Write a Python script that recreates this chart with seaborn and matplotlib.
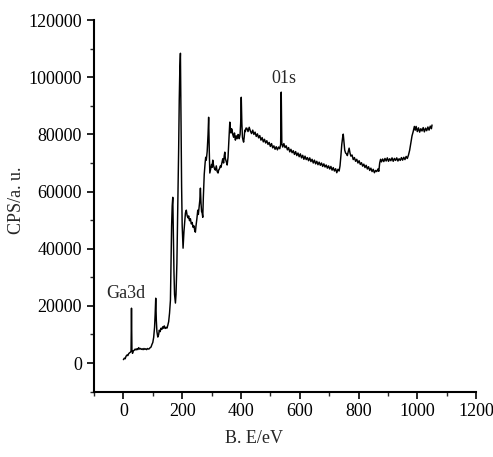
import matplotlib
matplotlib.use("Agg")
import matplotlib.pyplot as plt
import seaborn as sns
import pandas as pd
from matplotlib.ticker import MultipleLocator

# ---- data (binding energy in eV, counts) ----
energy = [
    0, 3, 6, 9, 12, 15, 18, 21, 24, 26, 27.5, 29, 31, 34, 37, 40, 43, 46, 49, 52, 55, 58, 61, 64, 67, 70,
    73, 76, 79, 82, 85, 88, 91, 94, 97, 100, 103, 106, 108, 110, 112, 114, 117, 120, 122, 125, 128, 131,
    134, 136, 139, 142, 145, 148, 151, 154, 157, 160, 162, 164, 166, 168, 170, 172, 174, 177, 179, 182,
    185, 188, 190, 192, 194, 196, 198, 200, 203, 206, 209, 211,
    214, 217, 220, 222, 225, 228, 231, 234, 237, 240, 243, 245, 247, 250, 253, 255, 258, 260, 262, 264,
    266, 268, 270, 272, 275, 278, 280, 282, 285, 288, 290, 292, 294, 297, 300, 302, 304, 307, 310, 313,
    316, 319, 322, 324, 327, 330, 332, 335, 338, 341, 343, 345, 347, 350, 353, 356, 358, 360, 362, 364,
    366, 368, 370, 372, 375, 378, 381, 384, 387, 390, 392, 394, 397, 399, 401, 403, 405, 407, 409, 411,
    413, 415, 417,
    420, 424, 428, 432, 436, 440, 444, 448, 452, 456, 460, 464, 468, 472, 476, 480, 484, 488, 492, 496,
    500, 504, 508, 512, 516, 520, 524, 528, 532, 535, 537, 539, 542, 546, 550, 554, 558, 562, 566, 570,
    574, 578, 582, 586, 590, 594, 598, 602, 606, 610, 614, 618, 622, 626, 630, 634, 638, 642, 646, 650,
    654, 658, 662, 666, 670, 674, 678, 682, 686, 690, 694, 698, 702, 706, 710, 714, 718, 722, 726, 730,
    734, 737, 740, 743, 746, 748, 750, 753, 756, 759, 762, 765, 768, 771, 774, 778, 782, 786, 790, 794,
    798, 802, 806, 810, 814, 818, 822, 826, 830, 834, 838, 842, 846, 850, 854, 858, 862, 866, 869, 872,
    875, 878, 882, 886, 890, 894, 898, 902, 906, 910, 914, 918, 922, 926, 930, 934, 938, 942, 946, 950,
    954, 958, 962, 966, 970, 974, 978, 982, 986, 990, 993, 996, 1000, 1004, 1008, 1012, 1016, 1020, 1024,
    1028, 1032, 1036, 1040, 1044, 1048, 1050,
]
counts = [
    1200, 1700, 1500, 2400, 2800, 2600, 3300, 3600, 3800, 4200, 19200, 4600, 3400, 4300, 4500, 4900, 4600,
    5000, 4700, 5400, 4900, 5100, 4800, 5000, 4700, 5100, 4800, 5000, 4700, 5100, 4900, 5000, 5400, 5600,
    6500, 7200, 9000, 12500, 17000, 22700, 15000, 11000, 9100, 10000, 11500, 11000, 12200, 11800, 12700,
    12200, 13000, 12100, 12500, 12200, 13200, 14500, 17500, 22000, 35000, 48000, 55000, 58000, 45000,
    32000, 24000, 21000, 24000, 35000, 55000, 75000, 92000, 103000, 108400, 85000, 62000, 48000, 40200,
    46000, 50000, 52500,
    53500, 51500, 50800, 51500, 49800, 50500, 48700, 49200, 47500, 48000, 46200, 45800, 48000, 50500,
    53500, 52000, 55000, 57000, 61200, 56000, 53000, 52500, 51000, 58000, 66000, 70000, 72000, 71000,
    74000, 80000, 86000, 75000, 66500, 68000, 69500, 68500, 71000, 69000, 68000, 67500, 69000, 67000,
    66500, 67500, 68000, 69000, 68500, 70000, 71500, 70000, 72500, 73800, 71500, 70500, 69300, 72000,
    76000, 80000, 84300, 82000, 80500, 82000, 81500, 80000, 79000, 80500, 78000, 79500, 78500, 80000,
    79800, 78500, 80000, 84000, 93000, 84000, 79000, 78000, 77300, 79000, 81500, 81000, 82200,
    82200, 81000, 82500, 81200, 80300, 81500, 80000, 80800, 79300, 80200, 78800, 79600, 78000, 78900,
    77400, 78300, 77000, 77800, 76500, 77200, 75800, 76800, 75300, 76000, 74800, 75700, 74600, 75600,
    75000, 76500, 94800, 76800, 75600, 76800, 75400, 76000, 74600, 75400, 73900, 74800, 73600, 74300,
    73000, 74000, 72600, 73500, 72200, 73200, 71800, 72700, 71300, 72400, 71200, 71900, 70800, 71800,
    70500, 71300, 70000, 71000, 69700, 70600, 69400, 70300, 69200, 70000, 68800, 69700, 68600, 69300,
    68200, 69000, 67900, 68800, 67500, 68400, 67200, 68000, 66600, 67800, 67200, 69000, 72500, 76500,
    79000, 80100, 78000, 74500, 73500, 73200, 72600, 74000, 75200, 73500, 72400, 72800, 71200, 71900,
    70600, 71300, 70000, 70800, 69500, 70100, 68900, 69600, 68400, 69200, 67900, 68700, 67400, 68200,
    67000, 67800, 66600, 67400, 67000, 67900, 67100, 70000, 71300, 70400, 71400, 70500, 71600, 70700,
    71800, 70600, 71500, 70800, 71800, 70600, 71600, 70900, 71800, 70700, 71500, 70900, 71900, 71000,
    72000, 71200, 72300, 71600, 72800, 74500, 77000, 79500, 81000, 82800, 81500, 82800, 81000, 82300,
    80800, 82000, 81200, 82400, 80900, 82200, 81300, 82600, 81500, 82900, 82000, 83300,
]

x_ticks = [0, 200, 400, 600, 800, 1000, 1200]
y_ticks = [0, 20000, 40000, 60000, 80000, 100000, 120000]
peak_labels = ["Ga3d", "01s"]
peak_label_pos = [(7, 24500), (545, 99700)]

df = pd.DataFrame({"energy": energy, "counts": counts})

sns.set_style("ticks")
plt.rcParams["font.family"] = ["Liberation Serif", "DejaVu Serif"]

fig = plt.figure(figsize=(4.93, 4.57), dpi=100)
ax = fig.add_axes([0.1907, 0.143, 0.775, 0.813])

sns.lineplot(data=df, x="energy", y="counts", ax=ax, color="black",
             linewidth=1.05, estimator=None, sort=False)

ax.set_xlim(-100, 1200)
ax.set_ylim(-10000, 120000)
ax.set_xticks(x_ticks)
ax.set_yticks(y_ticks)
ax.xaxis.set_minor_locator(MultipleLocator(100))
ax.yaxis.set_minor_locator(MultipleLocator(10000))
ax.tick_params(axis="both", which="major", direction="out", length=5, width=1.2,
               labelsize=13, colors="black")
ax.tick_params(axis="both", which="minor", direction="out", length=3, width=1.0)

sns.despine(ax=ax)
for s in ["left", "bottom"]:
    ax.spines[s].set_linewidth(1.5)
    ax.spines[s].set_color("black")

ax.set_xlabel("B. E/eV", fontsize=13)
ax.set_ylabel("CPS/a. u.", fontsize=13)
ax.xaxis.set_label_coords(0.419, -0.103)
ax.yaxis.set_label_coords(-0.18, 0.516)

for lab, (px, py) in zip(peak_labels, peak_label_pos):
    ax.text(px, py, lab, fontsize=13, ha="center", va="center")

fig.savefig("out.png", dpi=100)
